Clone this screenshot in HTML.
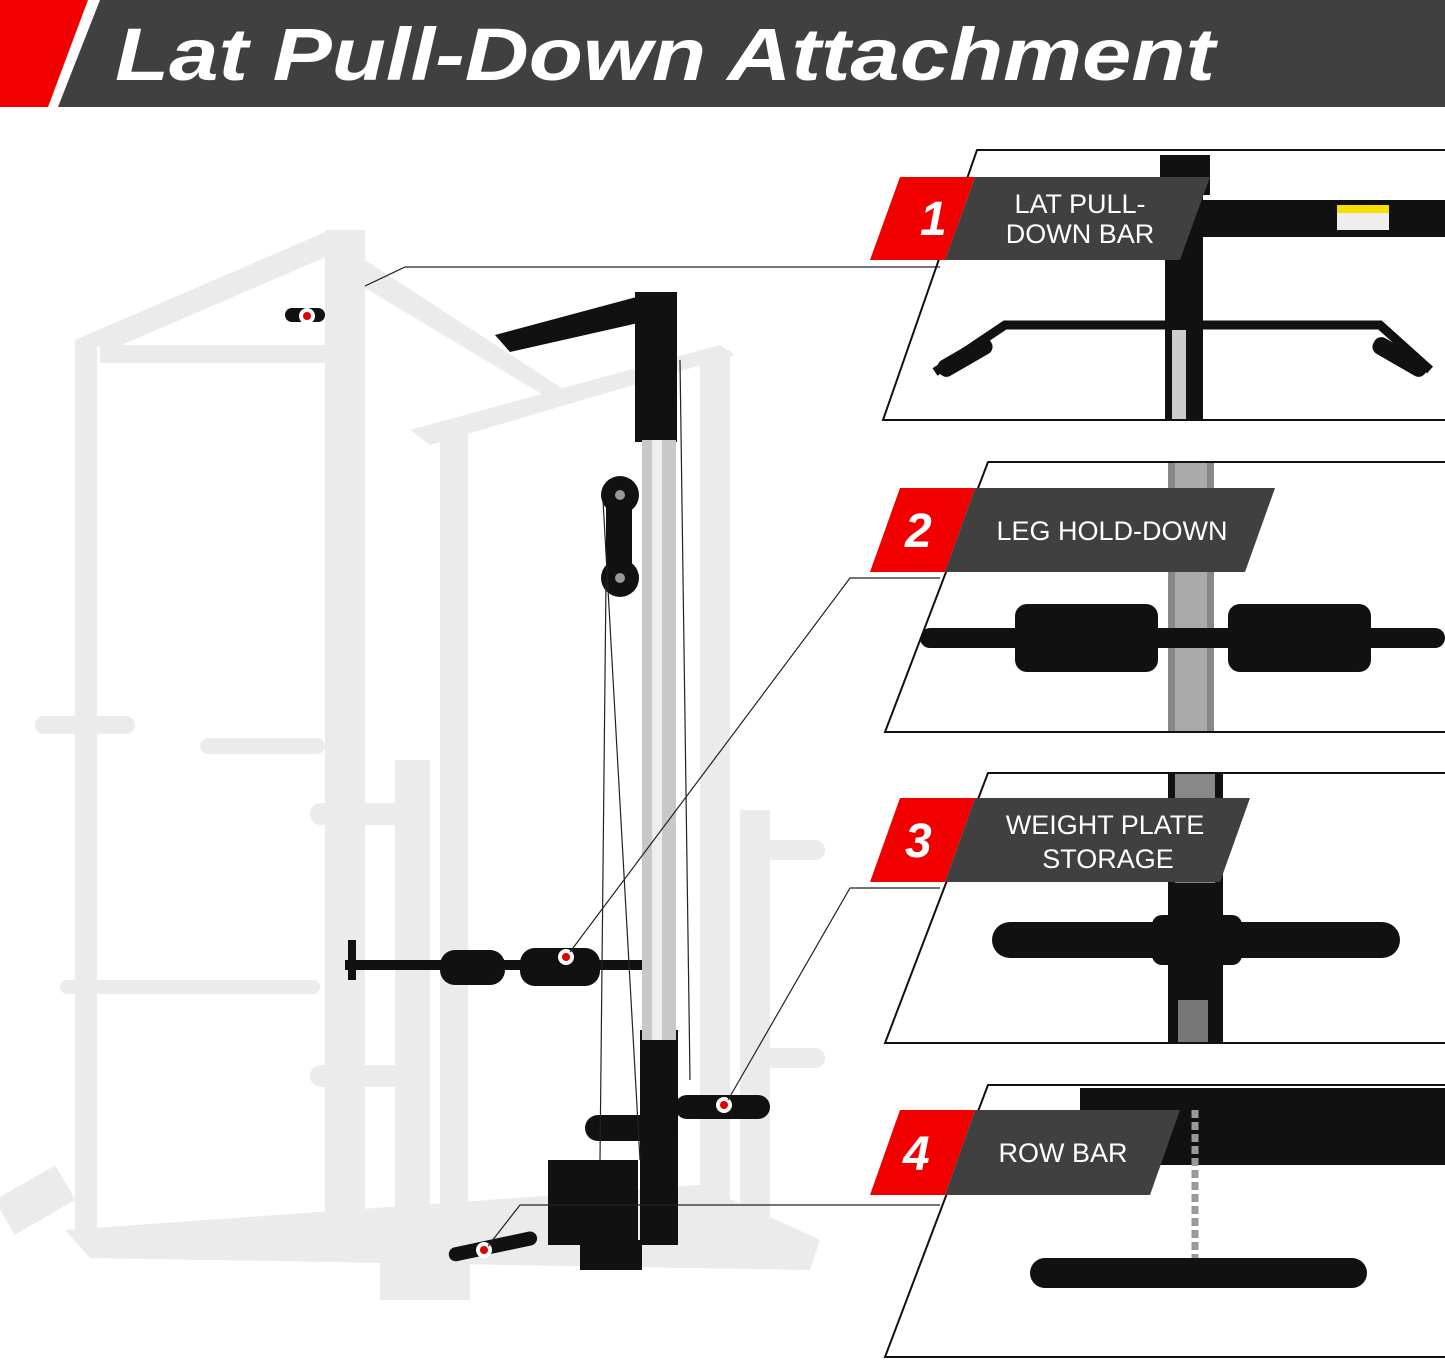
<!DOCTYPE html>
<html><head><meta charset="utf-8"><style>
html,body{margin:0;padding:0;background:#fff}
svg{display:block}
text{font-family:"Liberation Sans",sans-serif}
</style></head><body>
<svg width="1445" height="1360" viewBox="0 0 1445 1360" xmlns="http://www.w3.org/2000/svg">
<defs>
<clipPath id="p1"><polygon points="977,150 1445,150 1445,420 883,420"/></clipPath>
<clipPath id="p2"><polygon points="988,462 1445,462 1445,732 885,732"/></clipPath>
<clipPath id="p3"><polygon points="988,773 1445,773 1445,1043 885,1043"/></clipPath>
<clipPath id="p4"><polygon points="988,1085 1445,1085 1445,1357 885,1357"/></clipPath>
</defs>
<!-- header -->
<polygon points="0,0 88,0 48,107 0,107" fill="#f20000"/>
<polygon points="100,0 1445,0 1445,107 58,107" fill="#404040"/>
<text x="115" y="80" font-size="74" font-weight="bold" font-style="italic" fill="#fff" textLength="1100" lengthAdjust="spacingAndGlyphs">Lat Pull-Down Attachment</text>

<!-- rack (light gray) -->
<g fill="#ebebeb">
<rect x="75" y="340" width="22" height="900"/>
<rect x="325" y="270" width="40" height="960"/>
<rect x="100" y="345" width="230" height="18"/>
<polygon points="75,340 330,230 365,240 110,350"/>
<rect x="325" y="230" width="40" height="40"/>
<polygon points="365,260 580,400 560,405 360,285"/>
<rect x="440" y="430" width="28" height="780"/>
<rect x="700" y="350" width="30" height="860"/>
<polygon points="410,430 720,345 735,355 430,445"/>
<rect x="395" y="760" width="35" height="520"/>
<rect x="740" y="810" width="30" height="450"/>
<rect x="35" y="716" width="100" height="18" rx="9"/>
<rect x="200" y="738" width="125" height="16" rx="8"/>
<rect x="310" y="803" width="120" height="22" rx="11"/>
<rect x="310" y="1065" width="120" height="22" rx="11"/>
<rect x="60" y="980" width="260" height="14" rx="7"/>
<rect x="760" y="840" width="65" height="20" rx="10"/>
<rect x="760" y="1048" width="65" height="20" rx="10"/>
<polygon points="65,1230 700,1185 820,1240 810,1270 90,1258"/>
<rect x="380" y="1260" width="90" height="40"/>
<rect x="0" y="1180" width="70" height="40" transform="rotate(-30 35 1200)"/>
</g>
<!-- black attachment -->
<g fill="#111">
<polygon points="495,335 655,292 660,318 510,352"/>
<rect x="635" y="292" width="42" height="150"/>
<rect x="606" y="505" width="26" height="70"/>
<circle cx="620" cy="495" r="19"/>
<circle cx="620" cy="578" r="19"/>
<rect x="640" y="1030" width="38" height="215"/>
<rect x="548" y="1160" width="90" height="85"/>
<rect x="580" y="1240" width="62" height="30"/>
<rect x="285" y="308" width="40" height="14" rx="7"/>
<rect x="345" y="960" width="300" height="10"/>
<rect x="440" y="950" width="65" height="35" rx="15"/>
<rect x="520" y="948" width="80" height="38" rx="15"/>
<rect x="585" y="1115" width="90" height="26" rx="13"/>
<rect x="675" y="1095" width="95" height="24" rx="12"/>
<rect x="448" y="1240" width="90" height="14" rx="7" transform="rotate(-12 490 1247)"/>
<rect x="348" y="940" width="8" height="40"/>
</g>
<g fill="#999"><circle cx="620" cy="495" r="5"/><circle cx="620" cy="578" r="5"/></g>
<rect x="642" y="440" width="34" height="600" fill="#c8c8c8"/>
<rect x="652" y="440" width="10" height="600" fill="#eee"/>
<g stroke="#222" stroke-width="1.2">
<line x1="603" y1="500" x2="640" y2="1160"/>
<line x1="680" y1="360" x2="690" y2="1080"/>
<line x1="606" y1="580" x2="600" y2="1160"/>
</g>
<!-- red dots -->
<g fill="#fff"><circle cx="307" cy="316" r="8"/><circle cx="566" cy="957" r="8"/><circle cx="724" cy="1105" r="8"/><circle cx="484" cy="1250" r="8"/></g>
<g fill="#e00000"><circle cx="307" cy="316" r="4"/><circle cx="566" cy="957" r="4"/><circle cx="724" cy="1105" r="4"/><circle cx="484" cy="1250" r="4"/></g>
<!-- connectors -->
<g stroke="#222" stroke-width="1.2" fill="none">
<polyline points="365,286 405,267 940,267"/>
<polyline points="570,952 850,578 940,578"/>
<polyline points="728,1100 850,888 940,888"/>
<polyline points="488,1246 520,1205 940,1205"/>
</g>

<!-- panel contents -->
<g clip-path="url(#p1)">
<rect x="1160" y="155" width="50" height="40" fill="#111"/>
<rect x="1165" y="195" width="38" height="230" fill="#111"/>
<rect x="1172" y="330" width="14" height="90" fill="#ccc"/>
<rect x="1175" y="200" width="270" height="37" fill="#111"/>
<rect x="1337" y="205" width="52" height="25" fill="#eee"/>
<rect x="1337" y="205" width="52" height="8" fill="#f5e000"/>
<path d="M935,372 L1005,325 L1380,325 L1430,370" stroke="#111" stroke-width="9" fill="none"/>
<rect x="935" y="348" width="60" height="18" rx="8" fill="#111" transform="rotate(-30 965 357)"/>
<rect x="1370" y="348" width="60" height="18" rx="8" fill="#111" transform="rotate(30 1400 357)"/>
</g>
<g clip-path="url(#p2)">
<rect x="1168" y="462" width="46" height="270" fill="#888"/>
<rect x="1175" y="462" width="32" height="270" fill="#aaa"/>
<rect x="920" y="628" width="525" height="20" rx="10" fill="#111"/>
<rect x="1015" y="604" width="143" height="68" rx="12" fill="#111"/>
<rect x="1228" y="604" width="143" height="68" rx="12" fill="#111"/>
</g>
<g clip-path="url(#p3)">
<rect x="1168" y="773" width="55" height="270" fill="#111"/>
<rect x="1175" y="773" width="40" height="110" fill="#888"/>
<rect x="992" y="922" width="408" height="36" rx="18" fill="#111"/>
<rect x="1152" y="915" width="90" height="50" rx="10" fill="#111"/>
<rect x="1178" y="1000" width="30" height="43" fill="#777"/>
</g>
<g clip-path="url(#p4)">
<rect x="1080" y="1088" width="365" height="77" fill="#111"/>
<line x1="1195" y1="1110" x2="1195" y2="1260" stroke="#999" stroke-width="7" stroke-dasharray="8,4"/>
<rect x="1030" y="1258" width="337" height="30" rx="15" fill="#111"/>
</g>
<g fill="none" stroke="#111" stroke-width="2">
<polyline points="1445,150 977,150 883,420 1445,420"/>
<polyline points="1445,462 988,462 885,732 1445,732"/>
<polyline points="1445,773 988,773 885,1043 1445,1043"/>
<polyline points="1445,1085 988,1085 885,1357 1445,1357"/>
</g>
<!-- badges and labels -->
<g>
<polygon points="900,177 975,177 945,260 870,260" fill="#f20000"/>
<polygon points="975,177 1210,177 1180,260 945,260" fill="#404040"/>
<text x="920" y="235" font-size="48" font-weight="bold" font-style="italic" fill="#fff">1</text>
<text x="1080" y="213" font-size="27" fill="#fff" text-anchor="middle">LAT PULL-</text>
<text x="1080" y="243" font-size="27" fill="#fff" text-anchor="middle">DOWN BAR</text>

<polygon points="900,488 975,488 945,572 870,572" fill="#f20000"/>
<polygon points="975,488 1275,488 1245,572 945,572" fill="#404040"/>
<text x="905" y="547" font-size="48" font-weight="bold" font-style="italic" fill="#fff">2</text>
<text x="1112" y="540" font-size="27" fill="#fff" text-anchor="middle">LEG HOLD-DOWN</text>

<polygon points="900,798 975,798 945,882 870,882" fill="#f20000"/>
<polygon points="975,798 1250,798 1220,882 945,882" fill="#404040"/>
<text x="905" y="857" font-size="48" font-weight="bold" font-style="italic" fill="#fff">3</text>
<text x="1105" y="834" font-size="27" fill="#fff" text-anchor="middle">WEIGHT PLATE</text>
<text x="1108" y="868" font-size="27" fill="#fff" text-anchor="middle">STORAGE</text>

<polygon points="900,1110 975,1110 945,1195 870,1195" fill="#f20000"/>
<polygon points="975,1110 1180,1110 1150,1195 945,1195" fill="#404040"/>
<text x="903" y="1170" font-size="48" font-weight="bold" font-style="italic" fill="#fff">4</text>
<text x="1063" y="1162" font-size="27" fill="#fff" text-anchor="middle">ROW BAR</text>
</g>
</svg>
</body></html>
